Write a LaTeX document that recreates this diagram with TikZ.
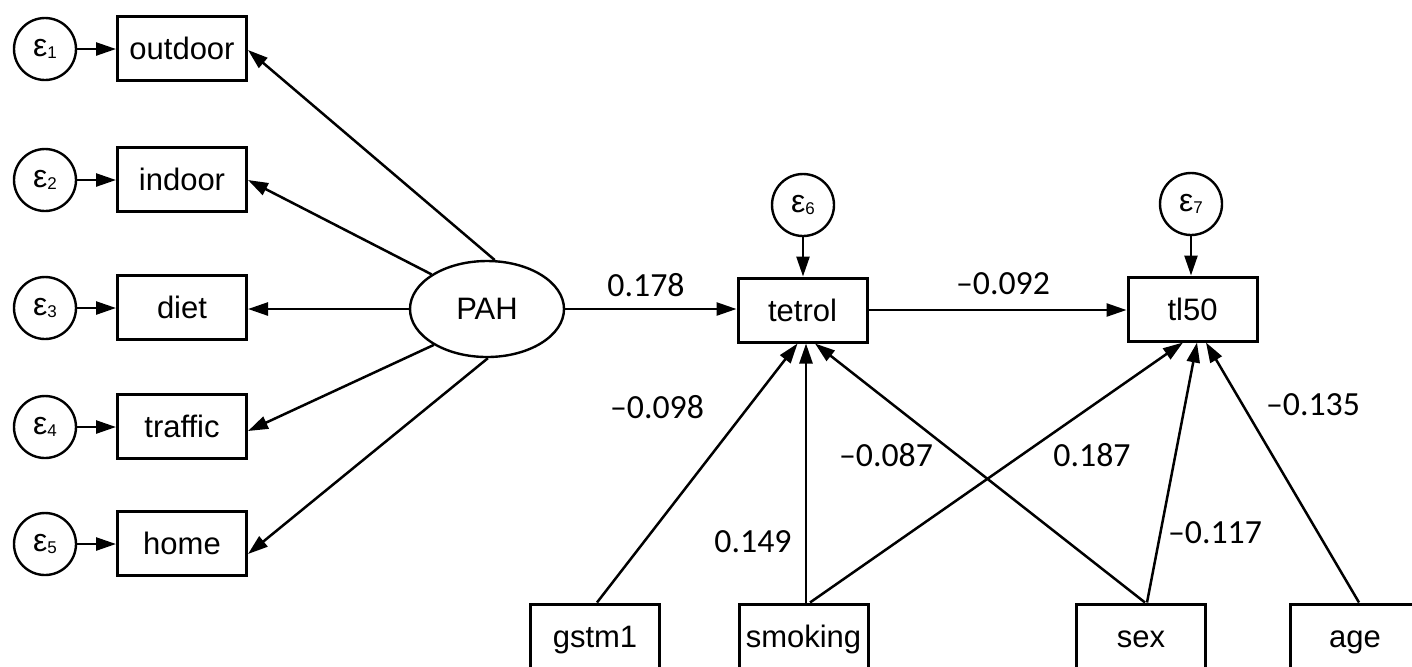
\documentclass[tikz,border=0pt]{standalone}
\usepackage{fontspec}
\setmainfont{Liberation Sans}
\newfontfamily\labelfont{Carlito}
\usetikzlibrary{arrows.meta,shapes.geometric,calc}
\newcommand\errlab[1]{{\fontsize{16}{18}\selectfont ε\raisebox{-0.8pt}{\fontsize{8.5}{10}\selectfont #1}}}
\begin{document}
\begin{tikzpicture}[x=0.5pt,y=-0.5pt,
  obsbox/.style={draw, line width=1.5pt, rectangle, minimum width=64.5pt, minimum height=32pt, inner sep=0pt, text height=11.5pt, text depth=0pt, font=\fontsize{15.5}{18}\selectfont},
  errc/.style={draw, circle, line width=1.2pt, minimum size=31pt, inner sep=0pt},
  latent/.style={draw, ellipse, line width=1.2pt, minimum width=77pt, minimum height=48pt, inner sep=0pt, font=\fontsize{15.5}{18}\selectfont},
  conn/.style={line width=1.25pt, -{Triangle[length=10pt,width=6.5pt]}},
  coef/.style={font=\labelfont\fontsize{16.9}{20}\selectfont, inner sep=0pt}
]
\useasboundingbox (0,0) rectangle (1412,666);
\fill[white] (0,0) rectangle (1412,666);
\clip (0,0) rectangle (1412,666);

% measurement part
\node[obsbox] (outdoor) at (182,48) {outdoor};
\node[obsbox] (indoor) at (182,179) {indoor};
\node[obsbox] (diet) at (182,307) {diet};
\node[obsbox] (traffic) at (182,426) {traffic};
\node[obsbox] (home) at (182,543) {home};

\node[errc] (e1) at (45,49) {\errlab{1}};
\node[errc] (e2) at (45,180) {\errlab{2}};
\node[errc] (e3) at (45,308) {\errlab{3}};
\node[errc] (e4) at (45,427) {\errlab{4}};
\node[errc] (e5) at (45,544) {\errlab{5}};

\node[latent] (PAH) at (487,309) {PAH};

% structural part
\node[obsbox] (tetrol) at (802.5,310) {tetrol};
\node[obsbox] (tl50) at (1192.5,309) {tl50};
\node[errc] (e6) at (803,205) {\errlab{6}};
\node[errc] (e7) at (1191,204) {\errlab{7}};

\node[obsbox] (gstm1) at (595,636) {gstm1};
\node[obsbox] (smoking) at (803.5,636) {smoking};
\node[obsbox] (sex) at (1141,636) {sex};
\node[obsbox] (age) at (1355,636) {age};

% error arrows
\foreach \e/\b in {e1/outdoor,e2/indoor,e3/diet,e4/traffic,e5/home}
  \draw[conn] (\e.east) -- (\e.east -| \b.west);
\draw[conn] (e6.south) -- (e6.south |- tetrol.north);
\draw[conn] (e7.south) -- (e7.south |- tl50.north);

% loadings
\draw[conn] (PAH.81) -- ($(outdoor.east)+(0,2)$);
\draw[conn] (PAH.148) -- ($(indoor.east)+(0,1)$);
\draw[conn] (PAH.west) -- (PAH.west -| diet.east);
\draw[conn] (PAH.214) -- ($(traffic.east)+(0,5)$);
\draw[conn] (PAH.271) -- ($(home.east)+(0,11)$);

% structural paths
\draw[conn] (PAH.east) -- (PAH.east -| tetrol.west);
\draw[conn] (tetrol.east) -- (tetrol.east -| tl50.west);

\draw[conn] ($(gstm1.north)+(2,0)$) -- ($(tetrol.south)+(-5,0)$);
\draw[conn] ($(smoking.north)+(2.5,0)$) -- ($(tetrol.south)+(3.5,0)$);
\draw[conn] ($(sex.north)+(4,0)$) -- ($(tetrol.south)+(12.5,0)$);
\draw[conn] ($(smoking.north)+(6.5,0)$) -- ($(tl50.south)+(-9.5,0)$);
\draw[conn] ($(sex.north)+(6,0)$) -- ($(tl50.south)+(4.5,0)$);
\draw[conn] ($(age.north)+(4,0)$) -- ($(tl50.south)+(13.5,0)$);

% coefficients
\node[coef] (c1) at (646,285) {0.178};
\node[coef] (c2) at (1003,284) {–0.092};
\node[coef] (c3) at (657,407) {–0.098};
\node[coef] (c4) at (886,455) {–0.087};
\node[coef] (c5) at (1092,455) {0.187};
\node[coef] (c6) at (753,542) {0.149};
\node[coef] (c7) at (1215,533) {–0.117};
\node[coef] (c8) at (1313,405) {–0.135};
\end{tikzpicture}
\end{document}
